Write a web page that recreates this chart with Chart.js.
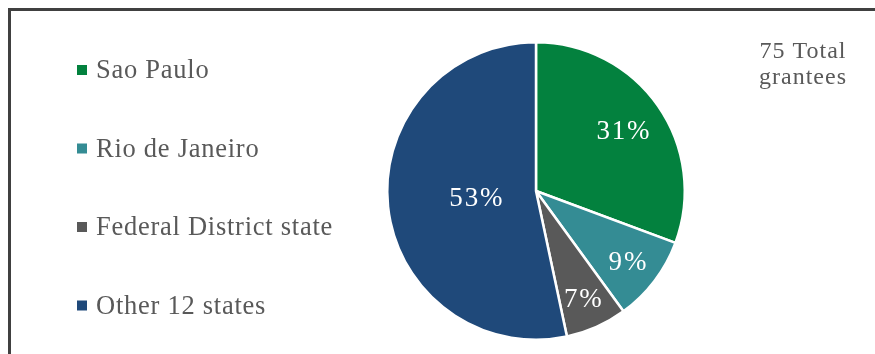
<!DOCTYPE html>
<html>
<head>
<meta charset="utf-8">
<script src="https://cdn.jsdelivr.net/npm/chart.js@4"></script>
<style>
  html, body { margin: 0; padding: 0; background: #fff; }
  .wrap { position: relative; width: 875px; height: 354px; }
  .frame { position: absolute; left: 8px; top: 8px; right: 0; bottom: 0;
           border-top: 3px solid #404040; border-left: 3px solid #404040; }
  canvas { position: absolute; left: 0; top: 0; }
</style>
</head>
<body>
<div class="wrap">
  <div class="frame"></div>
  <canvas id="pie" width="875" height="354"></canvas>
</div>
<script>
const categories = ['Sao Paulo', 'Rio de Janeiro', 'Federal District state', 'Other 12 states'];
const grantees = [23, 7, 5, 40];
const percentLabels = ['31%', '9%', '7%', '53%'];
const totalNote = ['75 Total', 'grantees'];
const colors = ['#03813E', '#348C94', '#595959', '#1F497A'];

const FONT = '"Liberation Serif", "DejaVu Serif", serif';

// where excel put each label, as share of the radius
const labelRadius = [0.72, 0.78, 0.79, 0.40];

// times is a bit narrower than cambria, so widen the letters a little
function setFont(ctx, size, text, width) {
  ctx.letterSpacing = '0px';
  ctx.font = size + 'px ' + FONT;
  const extra = (width - ctx.measureText(text).width) / text.length;
  ctx.letterSpacing = Math.max(0, extra) + 'px';
}

const extras = {
  id: 'extras',
  afterDatasetsDraw(chart) {
    const ctx = chart.ctx;
    const arcs = chart.getDatasetMeta(0).data;
    ctx.save();

    ctx.fillStyle = '#fff';
    setFont(ctx, 27, '53%', 55);
    ctx.textAlign = 'center';
    ctx.textBaseline = 'middle';
    arcs.forEach((arc, i) => {
      const mid = (arc.startAngle + arc.endAngle) / 2;
      const r = arc.outerRadius * labelRadius[i];
      ctx.fillText(percentLabels[i], arc.x + Math.cos(mid) * r, arc.y + Math.sin(mid) * r + 2);
    });

    // legend
    ctx.textAlign = 'left';
    ctx.textBaseline = 'alphabetic';
    setFont(ctx, 26.5, 'Federal District state', 237);
    categories.forEach((name, i) => {
      const y = 78 + i * 78.5;
      ctx.fillStyle = colors[i];
      ctx.fillRect(77, y - 13, 10, 10);
      ctx.fillStyle = '#595959';
      ctx.fillText(name, 96, y);
    });

    // total note
    ctx.textAlign = 'center';
    setFont(ctx, 24, 'grantees', 88);
    ctx.fillText(totalNote[0], 803, 58);
    ctx.fillText(totalNote[1], 803, 84);
    ctx.restore();
  }
};

new Chart(document.getElementById('pie'), {
  type: 'pie',
  data: {
    labels: categories,
    datasets: [{
      data: grantees,
      backgroundColor: colors,
      borderColor: '#fff',
      borderWidth: 2.5
    }]
  },
  options: {
    responsive: false,
    animation: false,
    layout: { padding: { left: 386, right: 189, top: 41, bottom: 13 } },
    plugins: {
      legend: { display: false },
      tooltip: { enabled: false }
    }
  },
  plugins: [extras]
});
</script>
</body>
</html>
